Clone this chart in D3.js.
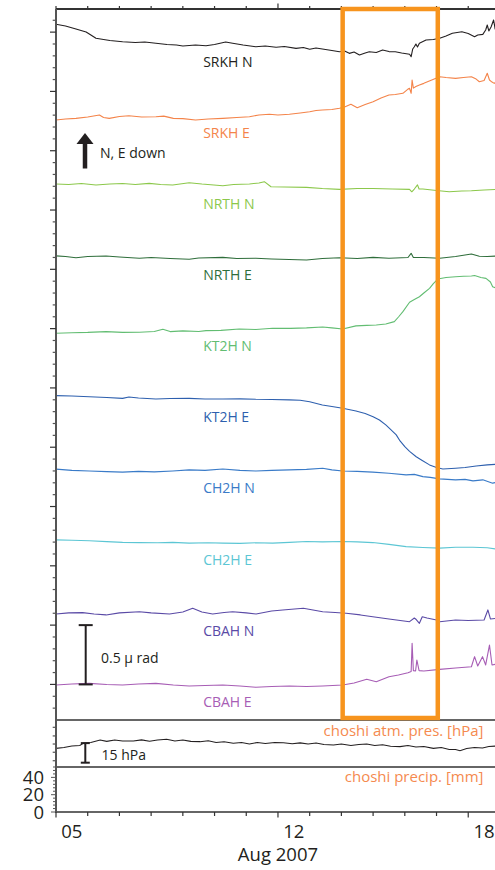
<!DOCTYPE html>
<html><head><meta charset="utf-8">
<script src="https://cdn.jsdelivr.net/npm/d3@7"></script>
<style>
html,body{margin:0;padding:0;background:#fff;overflow:hidden;}
svg{display:block;font-family:"Open Sans","Noto Sans",sans-serif;}
</style></head>
<body><svg id="c" width="495" height="870"></svg>
<script>
// ---------------- DATA (day offsets from 2007-08-05 00:00, tilt in µrad, stacked offsets) -------------
const seriesNames = ["SRKH N","SRKH E","NRTH N","NRTH E","KT2H N","KT2H E","CH2H N","CH2H E","CBAH N","CBAH E"];
const seriesColors = ["#231f20","#f4844a","#8cc84b","#2f6e3b","#62bd72","#2d5fae","#3a7bc8","#5cc6d4","#5a4aa6","#a75db5"];
const labelLevels = [5.21, 4.61, 4.01, 3.41, 2.81, 2.21, 1.61, 1.01, 0.41, -0.19];

const srkhN = [[0,5.566],[0.3,5.552],[0.63,5.526],[0.95,5.501],[1.1,5.476],[1.26,5.448],[1.5,5.438],[1.7,5.429],[2.1,5.419],[2.5,5.412],[2.8,5.417],[3.15,5.406],[3.5,5.396],[3.8,5.391],[4.0,5.383],[4.4,5.391],[4.73,5.385],[5.0,5.396],[5.35,5.417],[5.57,5.406],[5.9,5.391],[6.3,5.377],[6.6,5.383],[6.94,5.372],[7.2,5.379],[7.57,5.363],[7.8,5.370],[8.0,5.355],[8.2,5.366],[8.4,5.358],[8.7,5.345],[8.94,5.335],[9.1,5.341],[9.25,5.321],[9.4,5.332],[9.57,5.307],[9.75,5.324],[9.88,5.335],[10.1,5.328],[10.3,5.349],[10.5,5.336],[10.7,5.335],[10.9,5.324],[11.15,5.313],[11.2,5.293],[11.25,5.358],[11.3,5.377],[11.35,5.400],[11.4,5.375],[11.46,5.406],[11.67,5.433],[11.9,5.438],[12.1,5.448],[12.3,5.467],[12.5,5.490],[12.8,5.503],[13.0,5.488],[13.2,5.461],[13.3,5.476],[13.46,5.481],[13.55,5.518],[13.6,5.560],[13.65,5.510],[13.72,5.543],[13.8,5.602],[13.85,5.526],[13.9,5.543]];
const srkhE = [[0,4.759],[0.3,4.767],[0.63,4.773],[1.0,4.784],[1.37,4.801],[1.5,4.780],[1.68,4.773],[2.0,4.788],[2.3,4.795],[2.7,4.784],[3.15,4.787],[3.4,4.792],[3.7,4.773],[4.0,4.771],[4.4,4.759],[4.8,4.767],[5.26,4.773],[5.7,4.780],[6.1,4.787],[6.4,4.801],[6.73,4.807],[7.0,4.801],[7.36,4.807],[7.7,4.818],[8.0,4.829],[8.2,4.839],[8.4,4.843],[8.7,4.848],[8.94,4.858],[9.1,4.869],[9.3,4.891],[9.5,4.863],[9.75,4.890],[10.0,4.913],[10.25,4.944],[10.5,4.970],[10.7,4.974],[10.94,4.984],[11.1,5.020],[11.15,5.026],[11.2,4.984],[11.23,5.096],[11.27,5.028],[11.35,5.041],[11.46,5.054],[11.6,5.068],[11.85,5.096],[12.1,5.124],[12.3,5.117],[12.6,5.110],[12.85,5.117],[13.1,5.124],[13.25,5.104],[13.35,5.082],[13.5,5.092],[13.6,5.153],[13.67,5.096],[13.75,5.079],[13.82,5.068],[13.9,5.087]];
const nrthN = [[0,4.219],[0.4,4.215],[0.8,4.224],[1.26,4.211],[1.7,4.219],[2.1,4.224],[2.5,4.215],[2.94,4.225],[3.3,4.215],[3.68,4.211],[4.2,4.230],[4.6,4.219],[5.26,4.205],[5.6,4.215],[6.1,4.219],[6.4,4.228],[6.57,4.239],[6.78,4.196],[7.2,4.194],[7.9,4.191],[8.4,4.181],[8.94,4.174],[9.5,4.181],[10.0,4.182],[10.6,4.177],[11.15,4.174],[11.22,4.154],[11.3,4.177],[11.4,4.212],[11.45,4.177],[11.57,4.177],[12.0,4.164],[12.4,4.154],[12.8,4.160],[13.1,4.162],[13.5,4.169],[13.9,4.174]];
const nrthE = [[0,3.613],[0.3,3.608],[0.63,3.598],[1.0,3.608],[1.58,3.612],[2.0,3.604],[2.63,3.593],[3.0,3.600],[3.6,3.591],[4.2,3.585],[4.5,3.596],[5.26,3.601],[5.7,3.591],[6.3,3.593],[6.8,3.587],[7.36,3.583],[7.9,3.579],[8.4,3.591],[8.94,3.598],[9.5,3.591],[10.0,3.601],[10.5,3.593],[11.1,3.600],[11.2,3.635],[11.27,3.600],[11.6,3.600],[12.1,3.593],[12.6,3.608],[13.1,3.629],[13.35,3.610],[13.6,3.608],[13.9,3.612]];
const kt2hN = [[0,2.961],[0.5,2.965],[1.0,2.968],[1.58,2.975],[2.1,2.968],[2.63,2.969],[3.1,2.976],[3.37,2.995],[3.6,2.975],[4.0,2.981],[4.5,2.976],[4.73,2.983],[5.2,2.985],[5.78,2.997],[6.3,2.993],[6.83,3.003],[7.4,3.002],[7.9,3.006],[8.41,3.014],[8.7,3.006],[9.04,2.997],[9.46,3.023],[9.8,3.027],[10.1,3.031],[10.4,3.039],[10.67,3.059],[10.8,3.098],[10.94,3.143],[11.15,3.222],[11.3,3.246],[11.46,3.269],[11.6,3.300],[11.78,3.340],[11.9,3.380],[12.04,3.418],[12.3,3.431],[12.6,3.438],[12.85,3.441],[13.1,3.444],[13.2,3.448],[13.4,3.431],[13.56,3.424],[13.7,3.393],[13.77,3.353],[13.9,3.340]];
const kt2hE = [[0,2.435],[0.5,2.432],[1.05,2.426],[1.6,2.419],[2.1,2.412],[2.3,2.423],[2.6,2.415],[3.15,2.407],[3.6,2.411],[4.2,2.412],[4.7,2.407],[5.26,2.407],[5.8,2.408],[6.3,2.404],[6.8,2.403],[7.36,2.399],[7.7,2.396],[8.0,2.384],[8.4,2.356],[8.7,2.343],[9.04,2.328],[9.46,2.305],[9.75,2.284],[10.0,2.257],[10.2,2.230],[10.4,2.188],[10.55,2.150],[10.73,2.104],[10.85,2.053],[11.0,2.005],[11.15,1.965],[11.36,1.920],[11.55,1.888],[11.78,1.851],[12.0,1.829],[12.2,1.817],[12.6,1.823],[12.9,1.829],[13.25,1.842],[13.6,1.851],[13.9,1.856]];
const ch2hN = [[0,1.815],[0.5,1.805],[1.05,1.800],[1.6,1.794],[2.1,1.790],[2.6,1.796],[3.1,1.792],[3.68,1.800],[4.2,1.809],[4.7,1.805],[5.26,1.817],[5.8,1.805],[6.3,1.800],[6.8,1.805],[7.36,1.809],[7.9,1.813],[8.41,1.823],[8.7,1.809],[9.04,1.800],[9.5,1.796],[9.99,1.790],[10.5,1.780],[11.04,1.767],[11.3,1.771],[11.57,1.752],[11.8,1.746],[12.1,1.733],[12.6,1.725],[12.9,1.729],[13.15,1.716],[13.46,1.725],[13.77,1.697],[13.9,1.704]];
const ch2hE = [[0,1.219],[0.5,1.215],[1.05,1.211],[1.6,1.204],[2.1,1.198],[2.63,1.196],[3.2,1.194],[3.68,1.198],[4.2,1.191],[4.8,1.194],[5.26,1.191],[5.8,1.189],[6.3,1.194],[6.83,1.191],[7.36,1.198],[7.9,1.205],[8.4,1.202],[9.04,1.205],[9.5,1.202],[9.99,1.196],[10.5,1.181],[11.04,1.162],[11.57,1.154],[12.1,1.149],[12.6,1.156],[13.15,1.157],[13.6,1.152],[13.9,1.141]];
const cbahN = [[0,0.594],[0.4,0.603],[0.84,0.605],[1.2,0.594],[1.58,0.586],[2.0,0.603],[2.63,0.613],[3.0,0.603],[3.58,0.594],[4.0,0.611],[4.31,0.642],[4.6,0.611],[4.94,0.594],[5.3,0.607],[5.57,0.613],[6.0,0.603],[6.31,0.594],[6.8,0.619],[7.15,0.628],[7.8,0.642],[8.41,0.613],[8.8,0.607],[9.15,0.600],[9.6,0.586],[9.99,0.571],[10.5,0.552],[11.15,0.529],[11.3,0.560],[11.36,0.547],[11.46,0.515],[11.55,0.571],[11.7,0.560],[12.0,0.543],[12.1,0.529],[12.6,0.543],[13.0,0.539],[13.5,0.543],[13.62,0.628],[13.7,0.552],[13.9,0.557]];
const cbahE = [[0,-0.005],[0.5,0.003],[1.05,0.009],[1.6,-0.001],[2.1,-0.005],[2.6,0.003],[3.15,0.009],[3.7,-0.005],[4.2,-0.013],[4.7,-0.009],[5.26,-0.005],[5.8,-0.013],[6.3,-0.024],[6.8,-0.018],[7.36,-0.013],[7.9,-0.018],[8.41,-0.013],[9.04,-0.005],[9.4,0.012],[9.8,0.043],[10.1,0.023],[10.5,0.065],[10.8,0.079],[11.1,0.099],[11.2,0.109],[11.23,0.347],[11.27,0.116],[11.34,0.113],[11.38,0.206],[11.45,0.116],[11.6,0.113],[12.1,0.127],[12.6,0.138],[13.1,0.149],[13.2,0.234],[13.3,0.155],[13.45,0.234],[13.55,0.164],[13.67,0.332],[13.75,0.164],[13.9,0.172]];
const tiltSeries = [srkhN, srkhE, nrthN, nrthE, kt2hN, kt2hE, ch2hN, ch2hE, cbahN, cbahE];

// Choshi atmospheric pressure [hPa]
const pressure = [[0,1004.3],[0.25,1004.9],[0.5,1006.1],[0.75,1006.5],[0.86,1008.2],[1.1,1008.8],[1.39,1010.7],[1.6,1009.6],[1.85,1010.7],[2.1,1009.9],[2.44,1009.9],[2.7,1010.8],[2.95,1009.7],[3.2,1010.7],[3.49,1011.2],[3.75,1009.9],[4.0,1010.7],[4.25,1009.6],[4.54,1009.4],[4.8,1010.1],[5.05,1008.8],[5.3,1009.3],[5.59,1008.2],[5.85,1008.8],[6.1,1007.6],[6.35,1008.8],[6.6,1008.0],[6.9,1008.8],[7.17,1008.6],[7.45,1007.8],[7.7,1008.5],[7.95,1007.6],[8.2,1008.4],[8.45,1007.2],[8.75,1006.9],[9.0,1007.6],[9.3,1006.5],[9.55,1007.2],[9.8,1007.6],[10.05,1006.5],[10.3,1007.0],[10.55,1005.9],[10.85,1005.6],[11.1,1006.5],[11.35,1005.3],[11.6,1005.7],[11.9,1004.3],[12.15,1004.9],[12.4,1003.4],[12.6,1003.4],[12.74,1002.5],[12.95,1004.2],[13.2,1004.9],[13.45,1004.6],[13.65,1005.7],[13.9,1006.1]];
// Choshi daily precipitation [mm] (no rain in the period)
const precipDays = [0,1,2,3,4,5,6,7,8,9,10,11,12,13];
const precip = [0,0,0,0,0,0,0,0,0,0,0,0,0,0];

const precipTickLabels = [0, 20, 40];
const pressureTicks = [994.8, 1001.3, 1007.6, 1013.8, 1020.4];
const dayTickLabels = [[0,"05"],[7,"12"],[13,"18"]];
const highlight = [9.04, 12.04];      // orange box (days)
const tiltBar = [0, 0.5];             // 0.5 µrad scale bar
const pressBar = [993.3, 1008.3];     // 15 hPa scale bar
const labelDay = 4.64;

// ---------------- SCALES -------------
const t0 = Date.UTC(2007, 7, 5);
const toDate = d => new Date(t0 + d * 864e5);
const x = d3.scaleUtc().domain([toDate(0), toDate(14)]).range([56, 56 + 14 * 31.71]);
const yT = d3.scaleLinear().domain([-0.3, 5.695]).range([720, 9]);
const yP = d3.scaleLinear().domain([990, 1026]).range([767, 720]);
const yR = d3.scaleLinear().domain([0, 52]).range([812, 767]);

const svg = d3.select("#c");
const ink = "#231f20", axisCol = "#555";
const X0 = x.range()[0], X1 = 495;

// series lines
const line = yS => d3.line().x(d => x(toDate(d[0]))).y(d => yS(d[1]));
tiltSeries.forEach((s, i) => {
  svg.append("path").datum(s).attr("d", line(yT)).attr("fill", "none")
    .attr("stroke", seriesColors[i]).attr("stroke-width", 1.1).attr("stroke-linejoin", "round");
  svg.append("text").attr("x", x(toDate(labelDay))).attr("y", yT(labelLevels[i]))
    .attr("fill", seriesColors[i]).attr("font-size", 14).text(seriesNames[i]);
});
svg.append("path").datum(pressure).attr("d", line(yP)).attr("fill", "none")
  .attr("stroke", ink).attr("stroke-width", 1.1);
svg.selectAll("rect.pr").data(precip).join("rect").attr("class", "pr")
  .attr("x", (d, i) => x(toDate(precipDays[i])) + 2).attr("width", 27)
  .attr("y", d => yR(d)).attr("height", d => yR(0) - yR(d)).attr("fill", "#3a7bc8");

// frame lines
svg.append("line").attr("x1", X0).attr("x2", X1).attr("y1", yT.range()[1]).attr("y2", yT.range()[1]).attr("stroke", "#333").attr("stroke-width", 2);
[yT.range()[0], yP.range()[0]].forEach(yv =>
  svg.append("line").attr("x1", X0).attr("x2", X1).attr("y1", yv).attr("y2", yv).attr("stroke", "#333").attr("stroke-width", 1.3));
svg.append("line").attr("x1", X0).attr("x2", X1).attr("y1", yR(0)).attr("y2", yR(0)).attr("stroke", "#333").attr("stroke-width", 1.5);
svg.append("line").attr("x1", X0).attr("x2", X0).attr("y1", yT.range()[1]).attr("y2", yR(0) + 1).attr("stroke", axisCol).attr("stroke-width", 2);

// left ticks – tilt
d3.range(-2, 57).forEach(k => {
  const major = k % 5 === 0;
  svg.append("line").attr("x1", X0 - (major ? 6 : 3.3)).attr("x2", X0).attr("y1", yT(k / 10)).attr("y2", yT(k / 10))
    .attr("stroke", major ? "#333" : axisCol).attr("stroke-width", 1.2);
});
pressureTicks.forEach(p => svg.append("line").attr("x1", X0 - 3.3).attr("x2", X0).attr("y1", yP(p)).attr("y2", yP(p)).attr("stroke", axisCol).attr("stroke-width", 1.2));
d3.range(0, 53, 4).forEach(v => svg.append("line").attr("x1", X0 - (v % 20 === 0 ? 5 : 3)).attr("x2", X0).attr("y1", yR(v)).attr("y2", yR(v)).attr("stroke", axisCol).attr("stroke-width", 1));
precipTickLabels.forEach(v => svg.append("text").attr("x", 44).attr("y", yR(v)).attr("dy", "0.36em")
  .attr("text-anchor", "end").attr("font-size", 18.5).attr("fill", ink).text(v));

// day ticks top (up) and bottom (down)
const labelled = new Set(dayTickLabels.map(d => d[0]));
d3.range(0, 15).forEach(d => {
  const xv = x(toDate(d));
  svg.append("line").attr("x1", xv).attr("x2", xv).attr("y1", yT.range()[1]).attr("y2", yT.range()[1] - (d === 7 ? 5.5 : 3)).attr("stroke", "#333").attr("stroke-width", 1.2);
  svg.append("line").attr("x1", xv).attr("x2", xv).attr("y1", yR(0)).attr("y2", yR(0) + (labelled.has(d) ? 5.5 : 4)).attr("stroke", "#333").attr("stroke-width", 1.2);
});
dayTickLabels.forEach(([d, t]) => svg.append("text").attr("x", x(toDate(d + 0.5))).attr("y", 838)
  .attr("text-anchor", "middle").attr("font-size", 18.5).attr("fill", ink).text(t));
svg.append("text").attr("x", (x.range()[0] + x.range()[1]) / 2).attr("y", 861).attr("text-anchor", "middle")
  .attr("font-size", 18.5).attr("fill", ink).text("Aug 2007");

// orange highlight box
svg.append("rect").attr("x", x(toDate(highlight[0]))).attr("width", x(toDate(highlight[1])) - x(toDate(highlight[0])))
  .attr("y", yT.range()[1]).attr("height", yT.range()[0] - 2 - yT.range()[1])
  .attr("fill", "none").attr("stroke", "#f7941d").attr("stroke-width", 4.5);

// scale bars
function bar(xc, y1, y2, w) {
  const g = svg.append("g").attr("stroke", ink).attr("stroke-width", 2);
  g.append("line").attr("x1", xc).attr("x2", xc).attr("y1", y1).attr("y2", y2);
  g.append("line").attr("x1", xc - w / 2).attr("x2", xc + w / 2).attr("y1", y1).attr("y2", y1);
  g.append("line").attr("x1", xc - w / 2).attr("x2", xc + w / 2).attr("y1", y2).attr("y2", y2);
}
bar(85.7, yT(tiltBar[0]), yT(tiltBar[1]), 14);
svg.append("text").attr("x", 101).attr("y", 663).attr("font-size", 14).attr("fill", ink).text("0.5 μ rad");
bar(85.3, yP(pressBar[0]), yP(pressBar[1]), 9);
svg.append("text").attr("x", 101.5).attr("y", 760).attr("font-size", 14).attr("fill", ink).text("15 hPa");

// arrow "N, E down"
svg.append("line").attr("x1", 85).attr("x2", 85).attr("y1", 168.5).attr("y2", 140).attr("stroke", ink).attr("stroke-width", 4.5);
svg.append("path").attr("d", "M76.5,144 L93.5,144 L85,133 Z").attr("fill", ink);
svg.append("text").attr("x", 100).attr("y", 158).attr("font-size", 14).attr("fill", ink).text("N, E down");

// panel labels
svg.append("text").attr("x", 483.5).attr("y", 736).attr("text-anchor", "end").attr("font-size", 15).attr("fill", "#f58a4f").text("choshi atm. pres. [hPa]");
svg.append("text").attr("x", 483.5).attr("y", 782).attr("text-anchor", "end").attr("font-size", 15).attr("fill", "#f58a4f").text("choshi precip. [mm]");
</script></body></html>
